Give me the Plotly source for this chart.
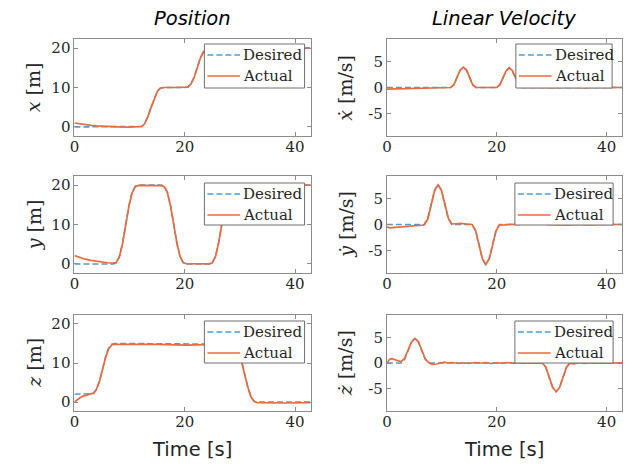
import plotly.graph_objects as go

# ---------------- data ----------------
X_DES_T = [0, 11.6, 12.2, 12.75, 13.3, 13.9, 14.5, 15.05, 15.6, 16.2, 20.0, 20.55, 21.1, 21.7, 22.25, 22.8, 23.4, 23.95, 24.5, 42.8]
X_DES_V = [0, 0, 0.12, 0.9, 2.6, 5.0, 7.4, 9.1, 9.88, 10, 10, 10.12, 10.9, 12.6, 15.0, 17.4, 19.1, 19.88, 20, 20]
X_ACT_T = [0, 1, 2, 3, 4, 5, 6, 7, 8, 10, 11.6, 12.2, 12.75, 13.3, 13.9, 14.5, 15.05, 15.6, 16.2, 18, 20.0, 20.55, 21.1, 21.7, 22.25, 22.8, 23.4, 23.95, 24.5, 30, 35, 42.8]
X_ACT_V = [1.0, 0.75, 0.55, 0.4, 0.28, 0.18, 0.1, 0.05, 0.0, -0.05, -0.05, 0.1, 0.85, 2.55, 4.95, 7.35, 9.05, 9.85, 10.0, 10.0, 10.0, 10.1, 10.85, 12.55, 14.95, 17.35, 19.05, 19.85, 20.0, 20.0, 20.0, 20.0]

XD_DES_T = [0, 11.6, 12.2, 12.75, 13.3, 13.9, 14.5, 15.05, 15.6, 16.2, 20.0, 20.55, 21.1, 21.7, 22.25, 22.8, 23.4, 23.95, 24.5, 42.8]
XD_DES_V = [0, 0, 0.57, 1.95, 3.33, 3.9, 3.33, 1.95, 0.57, 0, 0, 0.55, 1.9, 3.25, 3.8, 3.25, 1.9, 0.55, 0, 0]
XD_ACT_T = [0, 1, 2, 3, 5, 7, 9, 11.6, 12.2, 12.75, 13.3, 13.9, 14.5, 15.05, 15.6, 16.2, 18, 20.0, 20.55, 21.1, 21.7, 22.25, 22.8, 23.4, 23.95, 24.5, 27, 30, 33, 36, 39, 42.8]
XD_ACT_V = [-0.3, -0.28, -0.25, -0.2, -0.15, -0.1, -0.05, 0, 0.55, 1.9, 3.3, 3.9, 3.35, 1.95, 0.55, 0, 0.02, 0, 0.5, 1.85, 3.2, 3.8, 3.3, 1.95, 0.6, 0, 0.05, -0.05, 0.05, -0.05, 0.05, 0]

Y_DES_T = [0, 7.0, 7.575, 8.15, 8.725, 9.3, 9.875, 10.45, 11.025, 11.6, 15.7, 16.275, 16.85, 17.425, 18.0, 18.575, 19.15, 19.725, 20.3, 24.4, 24.975, 25.55, 26.125, 26.7, 27.275, 27.85, 28.425, 29.0, 42.8]
Y_DES_V = [0, 0, 0.25, 1.82, 5.25, 10, 14.75, 18.18, 19.75, 20, 20, 19.75, 18.18, 14.75, 10, 5.25, 1.82, 0.25, 0, 0, 0.25, 1.82, 5.25, 10, 14.75, 18.18, 19.75, 20, 20]
Y_ACT_T = [0, 1, 2, 3, 4, 5, 6, 7.0, 7.575, 8.15, 8.725, 9.3, 9.875, 10.45, 11.025, 11.6, 15.7, 16.275, 16.85, 17.425, 18.0, 18.575, 19.15, 19.725, 20.3, 24.4, 24.975, 25.55, 26.125, 26.7, 27.275, 27.85, 28.425, 29.0, 42.8]
Y_ACT_V = [2.1, 1.6, 1.2, 0.9, 0.65, 0.45, 0.3, 0.2, 0.35, 1.85, 5.2, 9.9, 14.6, 18.0, 19.6, 19.9, 19.85, 19.6, 18.1, 14.7, 10, 5.3, 1.9, 0.35, 0.05, 0, 0.25, 1.8, 5.2, 10, 14.7, 18.1, 19.7, 19.95, 20]

YD_DES_T = [0, 6.8, 7.425, 8.05, 8.675, 9.3, 9.925, 10.55, 11.175, 11.8, 15.5, 16.125, 16.75, 17.375, 18.0, 18.625, 19.25, 19.875, 20.5, 24.2, 24.825, 25.45, 26.075, 26.7, 27.325, 27.95, 28.575, 29.2, 42.8]
YD_DES_V = [0, 0, 1.12, 3.85, 6.58, 7.7, 6.58, 3.85, 1.12, 0, 0, -1.13, -3.88, -6.62, -7.75, -6.62, -3.88, -1.13, 0, 0, 1.12, 3.85, 6.58, 7.7, 6.58, 3.85, 1.12, 0, 0]
YD_ACT_T = [0, 0.6, 1.5, 3, 4.5, 6, 6.8, 7.425, 8.05, 8.675, 9.3, 9.925, 10.55, 11.175, 11.8, 12.5, 13.5, 14.5, 15.5, 16.125, 16.75, 17.375, 18.0, 18.625, 19.25, 19.875, 20.5, 21.5, 22.5, 23.5, 24.2, 24.825, 25.45, 26.075, 26.7, 27.325, 27.95, 28.575, 29.2, 31, 33, 35, 37, 39, 41, 42.8]
YD_ACT_V = [-0.5, -0.65, -0.55, -0.45, -0.3, -0.15, -0.1, 1.0, 3.75, 6.5, 7.65, 6.6, 3.9, 1.2, 0.1, 0.15, 0.2, 0.1, 0, -1.1, -3.85, -6.6, -7.75, -6.6, -3.9, -1.15, -0.05, -0.1, 0.05, -0.05, 0, 1.1, 3.8, 6.5, 7.6, 6.5, 3.8, 1.1, 0, 0, -0.1, 0.05, -0.08, 0.05, -0.05, 0]

Z_DES_T = [0, 2.9, 3.45, 4.0, 4.55, 5.1, 5.65, 6.2, 6.75, 7.3, 28.4, 29.0, 29.6, 30.2, 30.8, 31.4, 32.0, 32.6, 33.2, 42.8]
Z_DES_V = [2, 2, 2.16, 3.18, 5.41, 8.5, 11.59, 13.82, 14.84, 15, 15, 14.81, 13.64, 11.06, 7.5, 3.94, 1.36, 0.19, 0, 0]
Z_ACT_T = [0, 0.5, 1, 1.5, 2, 2.5, 2.9, 3.45, 4.0, 4.55, 5.1, 5.65, 6.2, 6.75, 7.3, 8, 15, 20, 25, 28.4, 29.0, 29.6, 30.2, 30.8, 31.4, 32.0, 32.6, 33.2, 34, 38, 42.8]
Z_ACT_V = [0, 0.6, 1.1, 1.45, 1.65, 1.75, 1.9, 2.3, 3.3, 5.4, 8.4, 11.4, 13.6, 14.6, 14.8, 14.8, 14.75, 14.6, 14.75, 14.8, 14.65, 13.5, 10.95, 7.45, 3.95, 1.35, 0.1, -0.15, -0.2, -0.25, -0.15]

ZD_DES_T = [0, 2.6, 3.225, 3.85, 4.475, 5.1, 5.725, 6.35, 6.975, 7.6, 28.3, 28.925, 29.55, 30.175, 30.8, 31.425, 32.05, 32.675, 33.3, 42.8]
ZD_DES_V = [0, 0, 0.70, 2.4, 4.1, 4.8, 4.1, 2.4, 0.70, 0, 0, -0.82, -2.8, -4.78, -5.6, -4.78, -2.8, -0.82, 0, 0]
ZD_ACT_T = [0, 0.5, 0.9, 1.5, 2.1, 2.6, 3.225, 3.85, 4.475, 5.1, 5.725, 6.35, 6.975, 7.6, 8.2, 9, 10, 10.5, 11, 12, 13, 14, 15, 16, 17, 18, 19, 20, 21, 22, 23, 24, 25, 26, 27, 28.3, 28.925, 29.55, 30.175, 30.8, 31.425, 32.05, 32.675, 33.3, 34, 35, 36, 37, 38, 39, 40, 41, 42, 42.8]
ZD_ACT_V = [0, 0.75, 0.85, 0.6, 0.3, 0.25, 0.9, 2.5, 4.1, 4.8, 4.15, 2.45, 0.8, 0.1, -0.25, -0.2, 0.1, 0.15, 0.0, 0.1, -0.1, 0.05, -0.1, 0.1, -0.05, 0.1, -0.1, 0.05, -0.05, 0.1, -0.05, 0.05, -0.05, 0.08, -0.05, 0, -0.8, -2.75, -4.75, -5.6, -4.8, -2.85, -0.85, -0.05, -0.15, 0.05, -0.1, 0.05, -0.05, 0.05, -0.05, 0.05, 0, 0]

POS_TICKS = [0, 10, 20]
POS_TICKTEXT = ["0", "10", "20"]
VEL_TICKS = [-5, 0, 5]
VEL_TICKTEXT = ["-5", "0", "5"]
TIME_TICKS = [0, 20, 40]
TIME_TICKTEXT = ["0", "20", "40"]

YLABELS = ["<i>x</i> [m]", "<i>ẋ</i> [m/s]", "<i>y</i> [m]", "<i>ẏ</i> [m/s]", "<i>z</i> [m]", "<i>ż</i> [m/s]"]
COL_TITLES = ["Position", "Linear Velocity"]
XLABEL = "Time [s]"
LEGEND_NAMES = ["Desired", "Actual"]

# ---------------- styling ----------------
W, H = 626, 466
BLUE = "#4a9fdc"
ORANGE = "#ec6a3c"
TXT = "#262626"
FRAME = "#8c8c8c"
SERIF = "DejaVu Serif"
SANS = "DejaVu Sans"
DASH = "6px,3px"

col_px = [(70, 308), (385, 622)]
row_px = [(39, 136), (176, 273), (315, 411)]
# legend boxes (left, top, right, bottom) in pixels
legend_box = [(201, 44, 302, 88), (515, 44, 612, 88),
              (201, 183, 302, 225), (514, 183, 613, 225),
              (201, 321, 302, 363), (514, 321, 613, 363)]

series = [
    (X_DES_T, X_DES_V, X_ACT_T, X_ACT_V),
    (XD_DES_T, XD_DES_V, XD_ACT_T, XD_ACT_V),
    (Y_DES_T, Y_DES_V, Y_ACT_T, Y_ACT_V),
    (YD_DES_T, YD_DES_V, YD_ACT_T, YD_ACT_V),
    (Z_DES_T, Z_DES_V, Z_ACT_T, Z_ACT_V),
    (ZD_DES_T, ZD_DES_V, ZD_ACT_T, ZD_ACT_V),
]

def px(xp):
    return xp / W

def py(yp):
    return 1 - yp / H

fig = go.Figure()
layout = dict(
    width=W, height=H, autosize=False,
    margin=dict(l=0, r=0, t=0, b=0),
    paper_bgcolor="white", plot_bgcolor="white",
    showlegend=False,
    annotations=[], shapes=[],
)

for i, (dt, dv, at, av) in enumerate(series):
    r, c = divmod(i, 2)
    n = i + 1
    xs = "" if n == 1 else str(n)
    fig.add_trace(go.Scatter(x=dt, y=dv, mode="lines", name=LEGEND_NAMES[0],
                             line=dict(color=BLUE, width=1.6, dash=DASH),
                             xaxis="x" + xs, yaxis="y" + xs))
    fig.add_trace(go.Scatter(x=at, y=av, mode="lines", name=LEGEND_NAMES[1],
                             line=dict(color=ORANGE, width=1.7),
                             xaxis="x" + xs, yaxis="y" + xs))
    x0, x1 = col_px[c]
    y0, y1 = row_px[r]
    common = dict(showline=True, linecolor=FRAME, linewidth=1, mirror="allticks",
                  ticks="inside", ticklen=4, tickcolor=FRAME, showgrid=False,
                  zeroline=False, tickfont=dict(family=SERIF, size=15, color=TXT))
    layout["xaxis" + xs] = dict(common, domain=[x0 / W, x1 / W], anchor="y" + xs,
                                range=[0, 42.8], tickvals=TIME_TICKS, ticktext=TIME_TICKTEXT,
                                ticklabelstandoff=-3)
    if c == 0:
        yr, tv, tt = [-2.3, 22.3], POS_TICKS, POS_TICKTEXT
    else:
        yr, tv, tt = [-9.35, 9.35], VEL_TICKS, VEL_TICKTEXT
    layout["yaxis" + xs] = dict(common, domain=[1 - y1 / H, 1 - y0 / H], anchor="x" + xs,
                                range=yr, tickvals=tv, ticktext=tt)
    # y-axis label
    layout["annotations"].append(dict(
        text=YLABELS[i], textangle=-90, showarrow=False,
        xref="paper", yref="paper",
        x=px(29 if c == 0 else 343), y=py((y0 + y1) / 2),
        xanchor="center", yanchor="middle",
        font=dict(family=SERIF, size=19, color=TXT)))
    # legend box
    bl, bt, br, bb = legend_box[i]
    layout["shapes"].append(dict(type="rect", xref="paper", yref="paper", layer="above",
                                 x0=px(bl), x1=px(br), y0=py(bt), y1=py(bb),
                                 fillcolor="white", line=dict(color="#6e6e6e", width=1)))
    for k, (col, dash, dy) in enumerate([(BLUE, DASH, 11), (ORANGE, "solid", 32)]):
        layout["shapes"].append(dict(type="line", xref="paper", yref="paper", layer="above",
                                     x0=px(bl + 3), x1=px(bl + 36), y0=py(bt + dy), y1=py(bt + dy),
                                     line=dict(color=col, width=1.7, dash=dash)))
        layout["annotations"].append(dict(
            text=LEGEND_NAMES[k], showarrow=False, xref="paper", yref="paper",
            x=px(bl + 37), y=py(bt + dy), xanchor="left", yanchor="middle",
            font=dict(family=SERIF, size=15, color=TXT)))

for c in range(2):
    cx = sum(col_px[c]) / 2 / W
    layout["annotations"].append(dict(
        text="<i>" + COL_TITLES[c] + "</i>", showarrow=False, xref="paper", yref="paper",
        x=cx, y=py(18), xanchor="center", yanchor="middle",
        font=dict(family=SANS, size=19.5, color="black")))
    layout["annotations"].append(dict(
        text=XLABEL, showarrow=False, xref="paper", yref="paper",
        x=cx, y=py(449), xanchor="center", yanchor="middle",
        font=dict(family=SANS, size=19.5, color=TXT)))

fig.update_layout(**layout)
fig.write_html("out.html")
